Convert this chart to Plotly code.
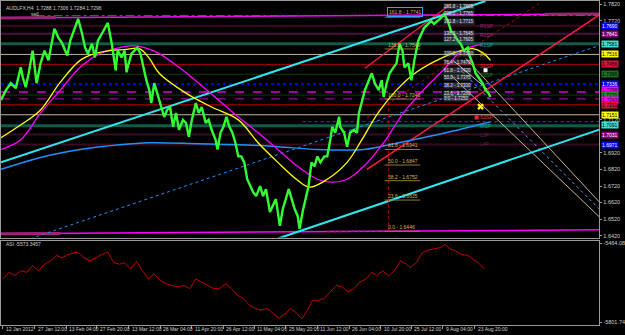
import plotly.graph_objects as go

# ---------------- data ----------------
# x positions are chart columns (1 column ~ 2 H4 bars)
tick_pos = [2, 34, 66, 97, 129, 161, 193, 225, 256, 288, 320, 352, 384, 415, 447, 479]
tick_labels = ["12 Jan 2012", "27 Jan 12:00", "13 Feb 04:00", "27 Feb 20:00", "13 Mar 12:00",
               "28 Mar 04:00", "11 Apr 20:00", "26 Apr 12:00", "11 May 04:00", "25 May 20:00",
               "11 Jun 12:00", "26 Jun 04:00", "10 Jul 20:00", "25 Jul 12:00", "9 Aug 04:00",
               "23 Aug 20:00"]

price_pos = [0, 5, 10, 15, 20, 22, 25, 28, 32, 35, 36, 40, 44, 48, 52, 54, 55, 58, 62, 65, 67, 70, 75, 78,
             82, 85, 88, 92, 95, 98, 102, 105, 108, 112, 115, 116, 118, 122, 125, 127, 128, 132, 135,
             138, 141, 144, 147, 150, 152, 155, 158, 162, 165, 168, 171, 174, 177, 180, 184, 187, 190,
             193, 197, 200, 203, 207, 210, 213, 217, 219, 222, 225, 228, 231, 234, 237, 240, 243, 246,
             249, 252, 255, 258, 262, 265, 268, 272, 275, 278, 282, 285, 288, 291, 294, 297, 300, 302,
             305, 308, 311, 314, 317, 320, 323, 327, 330, 333, 335, 338, 342, 343, 347, 350, 353, 357,
             360, 362, 365, 368, 372, 375, 378, 382, 385, 387, 390, 393, 397, 400, 403, 406, 408, 412,
             415, 418, 422, 425, 428, 432, 435, 438, 442, 445, 448, 452, 455, 458, 462, 465, 468, 472,
             473, 477, 480, 483, 487, 490, 493, 495]
price_close = [1.7240, 1.7300, 1.7342, 1.7312, 1.7438, 1.7378, 1.7318, 1.7402, 1.7539, 1.7378, 1.7342,
               1.7462, 1.7539, 1.7480, 1.7617, 1.7671, 1.7659, 1.7617, 1.7581, 1.7539, 1.7510, 1.7599,
               1.7677, 1.7731, 1.7641, 1.7557, 1.7521, 1.7581, 1.7498, 1.7599, 1.7641, 1.7671, 1.7707,
               1.7581, 1.7462, 1.7420, 1.7539, 1.7498, 1.7539, 1.7408, 1.7438, 1.7521, 1.7539, 1.7557,
               1.7521, 1.7438, 1.7360, 1.7300, 1.7222, 1.7342, 1.7282, 1.7198, 1.7138, 1.7180, 1.7198,
               1.7078, 1.7162, 1.7060, 1.7120, 1.7102, 1.7018, 1.7120, 1.7222, 1.7162, 1.7198, 1.7102,
               1.7120, 1.7060, 1.7000, 1.6941, 1.7042, 1.7078, 1.7138, 1.7078, 1.7042, 1.6982, 1.6899,
               1.6899, 1.6863, 1.6761, 1.6719, 1.6683, 1.6659, 1.6719, 1.6659, 1.6701, 1.6563, 1.6599,
               1.6641, 1.6479, 1.6581, 1.6641, 1.6701, 1.6641, 1.6581, 1.6539, 1.6461, 1.6563, 1.6641,
               1.6719, 1.6863, 1.6839, 1.6899, 1.6863, 1.6899, 1.6899, 1.7000, 1.7078, 1.7042, 1.7138,
               1.7078, 1.7042, 1.6958, 1.7042, 1.7060, 1.7042, 1.7162, 1.7240, 1.7300, 1.7360, 1.7402,
               1.7342, 1.7300, 1.7360, 1.7258, 1.7342, 1.7402, 1.7438, 1.7462, 1.7581, 1.7539, 1.7438,
               1.7462, 1.7360, 1.7480, 1.7599, 1.7641, 1.7677, 1.7701, 1.7719, 1.7701, 1.7719, 1.7737,
               1.7761, 1.7719, 1.7659, 1.7641, 1.7599, 1.7581, 1.7539, 1.7557, 1.7521, 1.7462, 1.7402,
               1.7378, 1.7342, 1.7300, 1.7282, 1.7258]

ma_yellow_pos = [0, 20, 40, 60, 80, 95, 110, 125, 140, 150, 160, 187, 213, 240, 260, 280, 300, 312, 330,
                 350, 365, 380, 400, 420, 447, 465, 477, 487, 495]
ma_yellow = [1.7012, 1.7090, 1.7180, 1.7348, 1.7480, 1.7521, 1.7539, 1.7545, 1.7551, 1.7492, 1.7402,
             1.7282, 1.7198, 1.7120, 1.6982, 1.6863, 1.6755, 1.6713, 1.6761, 1.6863, 1.7000, 1.7150,
             1.7300, 1.7408, 1.7498, 1.7539, 1.7551, 1.7527, 1.7480]

ma_magenta_pos = [0, 20, 40, 60, 80, 100, 120, 133, 145, 160, 180, 200, 220, 240, 260, 280, 300, 320, 333,
                  350, 367, 387, 407, 427, 447, 463, 473, 485]
ma_magenta = [1.6941, 1.7000, 1.7162, 1.7300, 1.7438, 1.7521, 1.7557, 1.7569, 1.7557, 1.7521, 1.7438,
              1.7342, 1.7240, 1.7138, 1.7042, 1.6941, 1.6839, 1.6761, 1.6743, 1.6761, 1.6839, 1.6982,
              1.7162, 1.7300, 1.7420, 1.7521, 1.7557, 1.7575]

ma_blue_pos = [0, 40, 80, 120, 150, 200, 240, 280, 320, 367, 383, 417, 450, 483, 495]
ma_blue = [1.6821, 1.6893, 1.6941, 1.6970, 1.6982, 1.6976, 1.6970, 1.6958, 1.6941, 1.6941, 1.6958,
           1.7000, 1.7042, 1.7090, 1.7108]

# horizontal levels (price) and their right-hand price tags
level_price = [1.7690, 1.7641, 1.7581, 1.7516, 1.7456, 1.7396, 1.7336, 1.7288, 1.7270, 1.7247,
               1.7211, 1.7151, 1.7085, 1.7031, 1.6971]
level_color = ["#3a0a22", "#4a1040", "#0f5a48", "#c8b496", "#b40000", "#0c3c0c", "#0000ff", "#a000a0",
               "#0c3c0c", "#c000c0", "#c00000", "#c8b496", "#0f5a48", "#3a0a22", "#3a0a22"]
level_width = [2, 2, 3, 1, 1, 1, 2, 2, 1, 1, 1, 1, 3, 2, 2]
level_dash = ["solid", "solid", "solid", "solid", "solid", "solid", "dot", "dash", "solid", "dash",
              "solid", "solid", "solid", "solid", "solid"]
tag_price = [1.7690, 1.7641, 1.7581, 1.7516, 1.7456, 1.7396, 1.7336, 1.7298, 1.7270, 1.7243,
             1.7211, 1.7151, 1.7091, 1.7031, 1.6971]
tag_bg = ["#0000ff", "#800080", "#40e0d0", "#ffff00", "#dc143c", "#1e6e1e", "#0000ff", "#ff00ff",
          "#2e8b2e", "#ff00ff", "#dc143c", "#ffff00", "#40e0d0", "#800080", "#0000ff"]
tag_fg = ["#ffffff", "#ffffff", "#000000", "#000000", "#000000", "#000000", "#ffffff", "#000000",
          "#000000", "#000000", "#000000", "#000000", "#000000", "#ffffff", "#ffffff"]
main_ticks = [1.6420, 1.6520, 1.6620, 1.6720, 1.6820, 1.6920, 1.7120, 1.7720, 1.7820]

# trend lines: (pos0, price0), (pos1, price1)
trend_cyan_up = [(0, 1.6863), (490, 1.7839)]
trend_cyan_low = [(280, 1.6402), (605, 1.7061)]
trend_blue_dot = [(30, 1.6402), (605, 1.7570)]
trend_red_up = [(368, 1.7432), (455, 1.7821)]
trend_red_low = [(370, 1.6821), (605, 1.7755)]
trend_red_dot = [(370, 1.7133), (545, 1.7827)]
chan_tan1 = [(470, 1.7492), (605, 1.6624)]
chan_tan2 = [(455, 1.7390), (605, 1.6534)]
chan_mid = [(462, 1.7438), (605, 1.6581)]
peak_line = [(457, 1.7480), (493, 1.7300)]

fib_levels = [0.0, 23.6, 38.2, 50.0, 61.8, 100.0, 138.2, 161.8]
fib_prices = [1.6446, 1.6635, 1.6752, 1.6847, 1.6941, 1.7246, 1.7549, 1.7741]

fib2_levels = [261.8, 200.0, 161.8, 138.2, 127.2, 100.0, 76.4, 61.8, 50.0, 38.2, 23.6, 0.0]
fib2_prices = [1.7805, 1.7765, 1.7715, 1.7645, 1.7605, 1.7520, 1.7470, 1.7420, 1.7375, 1.7330,
               1.7280, 1.7250]

pivot_names = ["R3SP", "R2SP", "R1SP", "PP", "S1SP", "S2SP", "S3SP", "MSP", "L3P", "L4P"]
pivot_prices = [1.7690, 1.7632, 1.7575, 1.7510, 1.7445, 1.7390, 1.7135, 1.7085, 1.7030, 1.6975]
pivot_colors = ["#a0206a", "#a0307a", "#20a0b0", "#c8a000", "#ff3040", "#208020", "#ff3040",
                "#20a0b0", "#602050", "#602050"]

asi_pos = [2, 8, 14, 20, 26, 32, 38, 44, 50, 56, 62, 68, 74, 78, 84, 90, 96, 102, 108, 114, 120, 125, 131,
           137, 143, 149, 155, 161, 167, 173, 179, 185, 191, 197, 203, 209, 215, 221, 227, 233, 239, 245,
           251, 257, 263, 269, 275, 281, 287, 293, 299, 304, 309, 315, 321, 327, 333, 339, 345, 351, 357,
           363, 369, 375, 380, 386, 392, 398, 404, 410, 414, 420, 426, 432, 438, 444, 449, 454, 460, 466,
           472, 478, 484, 489]
asi_val = [-5616, -5588, -5602, -5581, -5588, -5560, -5581, -5553, -5539, -5515, -5525, -5511, -5504,
           -5501, -5525, -5539, -5525, -5511, -5501, -5546, -5553, -5546, -5574, -5541, -5581, -5616,
           -5595, -5623, -5637, -5644, -5651, -5644, -5658, -5616, -5630, -5644, -5658, -5658, -5637,
           -5658, -5686, -5700, -5728, -5743, -5750, -5743, -5764, -5785, -5768, -5743, -5764, -5788,
           -5757, -5708, -5708, -5700, -5672, -5644, -5651, -5672, -5658, -5630, -5616, -5588, -5602,
           -5581, -5602, -5581, -5539, -5553, -5567, -5546, -5504, -5492, -5487, -5482, -5468, -5487,
           -5496, -5511, -5515, -5532, -5553, -5573.3457]

# ---------------- figure ----------------
W, H = 625, 335
PX = 605
fig = go.Figure()
FONT = "Liberation Sans"


def seg(x0, y0, x1, y1, color, width=1, dash="solid"):
    fig.add_trace(go.Scatter(x=[x0, x1], y=[y0, y1], mode="lines",
                             line=dict(color=color, width=width, dash=dash),
                             hoverinfo="skip", xaxis="x", yaxis="y"))


# horizontal levels
for p, c, w, d in zip(level_price, level_color, level_width, level_dash):
    seg(0, p, PX, p, c, w, d)
seg(305, 1.7109, PX, 1.7109, "#c000a0", 1, "dot")
# top & bottom magenta lines
seg(0, 1.7737, PX, 1.7761, "#ff00ff", 1.5)
seg(0, 1.7737, 55, 1.7739, "#a0207a", 3)
seg(550, 1.7759, PX, 1.7761, "#a0207a", 3)
seg(35, 1.7750, PX, 1.7752, "#2e8b2e", 1, "dashdot")
seg(0, 1.6431, PX, 1.6455, "#ff00ff", 1.5)
seg(0, 1.6431, 60, 1.6433, "#a0207a", 3)
seg(330, 1.6445, 420, 1.6447, "#a0207a", 1.5, "dot")

# trend lines
for t, c, w, d in [(trend_blue_dot, "#1e90ff", 1, "dot"), (trend_red_dot, "#b40000", 1, "dot"),
                   (chan_tan1, "#c8b496", 1, "solid"), (chan_tan2, "#c8b496", 1, "solid"),
                   (chan_mid, "#6495ed", 1, "dot"), (peak_line, "#d0d0d0", 1, "solid"),
                   (trend_red_up, "#ff1a4a", 1.2, "solid"),
                   (trend_red_low, "#ff1a4a", 1.5, "solid"), (trend_cyan_up, "#2ee6f0", 2, "solid"),
                   (trend_cyan_low, "#2ee6f0", 2, "solid")]:
    seg(t[0][0], t[0][1], t[1][0], t[1][1], c, w, d)

# fib retracement
seg(392, fib_prices[0], 392, fib_prices[5], "#b40000", 1, "dot")
for lv, fp in zip(fib_levels, fib_prices):
    seg(388, fp, 424, fp, "#8c7a3c", 1)

# moving averages
fig.add_trace(go.Scatter(x=ma_blue_pos, y=ma_blue, mode="lines", line=dict(color="#1e90ff", width=1.5),
                         line_shape="spline", hoverinfo="skip"))
fig.add_trace(go.Scatter(x=ma_magenta_pos, y=ma_magenta, mode="lines",
                         line=dict(color="#ff00ff", width=1.3), line_shape="spline", hoverinfo="skip"))
fig.add_trace(go.Scatter(x=ma_yellow_pos, y=ma_yellow, mode="lines",
                         line=dict(color="#ffff00", width=1.3), line_shape="spline", hoverinfo="skip"))

# price
fig.add_trace(go.Scatter(x=price_pos, y=price_close, mode="lines",
                         line=dict(color="#32ff32", width=2.4), hoverinfo="skip"))

# markers near last price
fig.add_trace(go.Scatter(x=[485], y=[1.7200], mode="markers", hoverinfo="skip",
                         marker=dict(symbol="x", size=6, color="#ffff00")))
fig.add_trace(go.Scatter(x=[481], y=[1.7135], mode="markers", hoverinfo="skip",
                         marker=dict(symbol="square", size=4, color="#ff2040")))
fig.add_trace(go.Scatter(x=[490], y=[1.7420], mode="markers", hoverinfo="skip",
                         marker=dict(symbol="square", size=4, color="#ffffff")))

# ASI
fig.add_trace(go.Scatter(x=asi_pos, y=asi_val, mode="lines", line=dict(color="#c00000", width=1),
                         xaxis="x2", yaxis="y2", hoverinfo="skip"))

ann = []
small = dict(family=FONT, size=5, color="#d0d0d0")
ann.append(dict(x=0.005, y=1 - 2 / H, xref="paper", yref="paper", xanchor="left", yanchor="top",
                text="AUDLFX,H4  1.7288 1.7306 1.7284 1.7296", showarrow=False, font=small))
ann.append(dict(x=28, y=1.7762, xref="x", yref="y", xanchor="left", yanchor="middle",
                text="sell", showarrow=False, font=small))
ann.append(dict(x=0.005, y=1 - 244 / H, xref="paper", yref="paper", xanchor="left", yanchor="middle",
                text="ASI -5573.3457", showarrow=False, font=small))
for lv, fp in zip(fib_levels, fib_prices):
    box = lv == 161.8
    ann.append(dict(x=390, y=fp, xref="x", yref="y", xanchor="left", yanchor="bottom",
                    text=f"{lv:.1f} - {fp:.4f}", showarrow=False,
                    bordercolor="#3aa0ff" if box else None, borderwidth=1 if box else 0,
                    font=dict(family=FONT, size=5, color="#d2b45a"), borderpad=1))
for lv, fp in zip(fib2_levels, fib2_prices):
    ann.append(dict(x=447, y=fp, xref="x", yref="y", xanchor="left", yanchor="middle",
                    text=f"{lv:.1f} - {fp:.4f}", showarrow=False, bgcolor="rgba(120,130,160,0.35)",
                    font=dict(family=FONT, size=4.5, color="#e0e0e0"), borderpad=0))
for pn, pp, pc in zip(pivot_names, pivot_prices, pivot_colors):
    ann.append(dict(x=482, y=pp, xref="x", yref="y", xanchor="left", yanchor="middle",
                    text=pn, showarrow=False, font=dict(family=FONT, size=5, color=pc)))
for tp, tl in zip(tick_pos, tick_labels):
    ann.append(dict(x=tp + 1, y=1 - 330 / H, xref="x2", yref="paper", xanchor="left", yanchor="middle",
                    text=tl, showarrow=False, font=small))
for tp, bg, fg in zip(tag_price, tag_bg, tag_fg):
    ann.append(dict(x=(PX + 2) / W, y=tp, xref="paper", yref="y", xanchor="left", yanchor="middle",
                    text=f"{tp:.4f}", showarrow=False, bgcolor=bg, borderpad=0,
                    font=dict(family=FONT, size=5, color=fg)))

axis_common = dict(showgrid=False, zeroline=False, showline=True, mirror=True, linecolor="#9a9a9a",
                   linewidth=1)
fig.update_layout(
    width=W, height=H, margin=dict(l=0, r=0, t=0, b=0),
    paper_bgcolor="#000000", plot_bgcolor="#000000", showlegend=False,
    xaxis=dict(domain=[0, PX / W], range=[0, PX], showticklabels=False, ticks="", anchor="y",
               **axis_common),
    xaxis2=dict(domain=[0, PX / W], range=[0, PX], matches="x", anchor="y2", showticklabels=False,
                ticks="outside", ticklen=3, tickcolor="#9a9a9a", tickvals=tick_pos, **axis_common),
    yaxis=dict(domain=[1 - 238 / H, 1], range=[1.64080, 1.78392], side="right", anchor="x",
               tickvals=main_ticks, ticktext=[f"{v:.4f}" for v in main_ticks], ticks="outside",
               ticklen=2, tickcolor="#9a9a9a", tickfont=dict(family=FONT, size=5.5, color="#d0d0d0"),
               **axis_common),
    yaxis2=dict(domain=[1 - 326 / H, 1 - 241 / H], range=[-5814.56, -5451.26], side="right",
                anchor="x2", tickvals=[-5464.08, -5801.74], ticktext=["-5464.08", "-5801.74"],
                ticks="outside", ticklen=2, tickcolor="#9a9a9a",
                tickfont=dict(family=FONT, size=5.5, color="#d0d0d0"), **axis_common),
    annotations=ann,
)
fig.write_html("out.html")
